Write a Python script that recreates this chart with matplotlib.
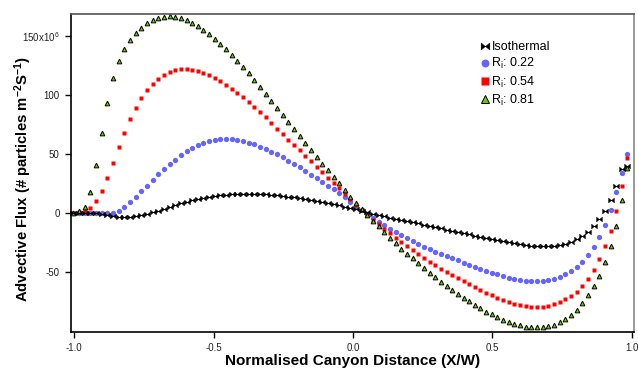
import numpy as np
import matplotlib
matplotlib.use("Agg")
import matplotlib.pyplot as plt
from matplotlib.ticker import FixedLocator

plt.rcParams['font.family'] = ['Liberation Sans', 'DejaVu Sans']
plt.rcParams['mathtext.default'] = 'regular'
plt.rcParams['axes.unicode_minus'] = False

# posicao normalizada no canyon (X/W)
x_norm = np.linspace(-1.002, 0.984, 99)

# fluxo advectivo (x10^6 particulas m-2 s-1)
flux_iso = [0.0, 0.0, 0.0, -0.3, -0.6, -0.8, -1.7, -2.5, -3.4, -3.7,
            -3.7, -3.1, -2.3, -1.1, 0.3, 1.7, 3.1, 4.8, 6.5, 8.0,
            9.4, 10.7, 11.8, 12.8, 13.6, 14.2, 14.7, 15.1, 15.4, 15.6,
            15.7, 15.8, 15.7, 15.6, 15.4, 15.1, 14.7, 14.2, 13.6, 13.0,
            12.3, 11.6, 10.8, 10.0, 9.2, 8.3, 7.3, 6.3, 5.2, 4.1,
            2.9, 1.5, 0.2, -1.0, -2.1, -3.2, -4.2, -5.2, -6.1, -7.0,
            -8.0, -9.1, -10.2, -11.3, -12.4, -13.4, -14.4, -15.4, -16.4, -17.4,
            -18.4, -19.4, -20.4, -21.4, -22.4, -23.3, -24.2, -25.1, -26.0, -26.8,
            -27.5, -28.0, -28.3, -28.4, -28.3, -28.0, -27.4, -26.3, -24.8, -22.6,
            -19.7, -16.1, -11.5, -5.4, 1.8, 11.0, 22.7, 36.8, 39.3]

flux_022 = [0.0, -0.1, -0.2, -0.4, -0.6, -0.7, -0.5, 0.1, 1.7, 4.6,
            8.8, 13.2, 18.1, 23.0, 28.0, 32.5, 36.8, 41.2, 45.0, 48.6,
            52.0, 55.1, 57.4, 59.3, 60.8, 61.9, 62.5, 62.5, 62.2, 61.6,
            60.8, 59.3, 57.8, 55.9, 53.7, 51.7, 49.5, 46.9, 44.2, 41.4,
            38.5, 35.3, 32.3, 29.3, 26.0, 22.9, 19.8, 16.4, 13.0, 9.4,
            5.9, 2.3, -1.3, -4.7, -7.8, -10.7, -13.5, -16.2, -18.8, -21.4,
            -23.9, -26.4, -28.7, -30.9, -33.0, -35.0, -36.7, -38.3, -40.3, -42.3,
            -44.1, -45.8, -47.6, -49.3, -50.9, -52.4, -53.8, -55.0, -56.1, -57.0,
            -57.6, -57.9, -58.0, -57.9, -57.2, -56.0, -54.4, -52.3, -49.7, -46.0,
            -41.6, -36.0, -29.3, -20.7, -10.8, 2.3, 17.5, 34.0, 49.5]

flux_054 = [0.0, 0.3, 1.2, 3.7, 9.7, 18.4, 29.7, 42.4, 55.4, 67.8,
            79.4, 89.0, 96.9, 103.7, 109.1, 113.3, 116.7, 119.2, 120.9, 121.8,
            121.8, 121.2, 120.1, 118.7, 116.7, 114.2, 111.4, 108.5, 105.1, 101.7,
            97.8, 93.8, 89.6, 85.3, 80.8, 76.0, 71.2, 66.4, 61.9, 57.4,
            52.9, 48.1, 43.6, 39.0, 34.5, 29.7, 25.1, 20.5, 15.8, 11.2,
            6.6, 2.2, -2.0, -6.0, -9.9, -13.8, -17.6, -21.4, -25.0, -28.6,
            -32.0, -35.4, -38.6, -41.7, -44.6, -47.4, -50.0, -52.6, -55.2, -57.8,
            -60.4, -62.9, -65.4, -67.7, -69.9, -72.0, -74.0, -75.7, -77.1, -78.5,
            -79.3, -79.9, -79.9, -79.9, -78.8, -77.4, -75.7, -73.4, -70.3, -66.9,
            -62.1, -55.9, -48.6, -39.5, -28.5, -15.2, 1.2, 22.6, 46.6]

flux_081 = [0.0, 1.0, 4.6, 17.8, 40.2, 67.2, 93.2, 114.4, 128.6, 138.7,
            146.4, 152.0, 156.8, 160.5, 163.3, 165.3, 166.1, 166.4, 166.1, 165.0,
            163.1, 160.8, 158.2, 154.8, 151.2, 147.2, 143.0, 138.5, 133.4, 128.6,
            123.7, 118.1, 112.5, 106.8, 100.9, 94.9, 89.0, 83.1, 77.1, 71.2,
            65.3, 59.3, 53.4, 47.5, 41.5, 35.9, 30.1, 24.9, 19.0, 13.6,
            8.5, 3.1, -1.7, -6.8, -11.5, -16.6, -21.4, -25.9, -30.5, -34.7,
            -38.6, -42.9, -47.1, -50.8, -54.8, -58.5, -62.1, -65.5, -68.6, -72.0,
            -75.1, -78.0, -81.0, -83.9, -86.1, -88.6, -90.7, -92.6, -94.3, -95.4,
            -96.6, -97.1, -97.1, -97.1, -96.3, -94.9, -92.9, -90.1, -86.7, -82.2,
            -76.8, -70.0, -62.1, -53.4, -42.0, -28.5, -11.5, 10.8, 37.6]

rotulos = ['Isothermal', 'R$_i$: 0.22', 'R$_i$: 0.54', 'R$_i$: 0.81']
yticks = [-50, 0, 50, 100, 150]
ytick_labels = ['-50', '0', '50', '100', '150x10$^{6}$']
xticks = [-1.0, -0.5, 0.0, 0.5, 1.0]

# marcador "gravata" para o caso isotermico
bowtie = [(-1, -0.8), (-1, 0.8), (1, -0.8), (1, 0.8), (-1, -0.8)]

fig = plt.figure(figsize=(6.38, 3.68), dpi=100)
ax = fig.add_axes([0.111, 0.098, 0.883, 0.864])

ax.plot(x_norm, flux_022, 'o', ls='none', color='#6464ff', mec='none', ms=3.8,
        label=rotulos[1], clip_on=False)
ax.plot(x_norm, flux_054, 's', ls='none', color='#ff0000', mec='none', ms=3.5,
        label=rotulos[2], clip_on=False)
ax.plot(x_norm, flux_081, '^', ls='none', color='#66cc00', mec='black', mew=0.7,
        ms=3.4, label=rotulos[3], clip_on=False)
ax.plot(x_norm, flux_iso, marker=bowtie, ls='none', color='black', mec='black',
        mew=0.3, ms=4.2, label=rotulos[0], clip_on=False)

ax.set_xlim(-1.0115, 1.008)
ax.set_ylim(-101.1, 168.4)

ax.xaxis.set_major_locator(FixedLocator(xticks))
ax.set_xticklabels(['%.1f' % v for v in xticks])
ax.yaxis.set_major_locator(FixedLocator(yticks))
ax.set_yticklabels(ytick_labels)
ax.tick_params(direction='out', length=4, width=1, labelsize=7, colors='black',
               labelcolor='#222222', pad=4)

ax.spines['left'].set_linewidth(1.2)
ax.spines['bottom'].set_linewidth(1.2)
ax.spines['top'].set_color('#555555')
ax.spines['top'].set_linewidth(1.2)
ax.spines['right'].set_color('#888888')
ax.spines['right'].set_linewidth(1.2)

ax.set_xlabel('Normalised Canyon Distance (X/W)', fontsize=11, fontweight='bold',
              labelpad=1)
ax.set_ylabel('Advective Flux (# particles m$^{-2}$S$^{-1}$)', fontsize=10.7,
              fontweight='bold')
ax.yaxis.set_label_coords(-0.066, 0.48)

h, l = ax.get_legend_handles_labels()
ordem = [3, 0, 1, 2]
ax.legend([h[i] for i in ordem], [l[i] for i in ordem], loc='upper left',
          bbox_to_anchor=(0.72, 0.93), frameon=False, fontsize=9,
          handlelength=0.6, handletextpad=0.2, labelspacing=0.25,
          borderaxespad=0, markerscale=1.5)

fig.savefig('out.png', dpi=100)
